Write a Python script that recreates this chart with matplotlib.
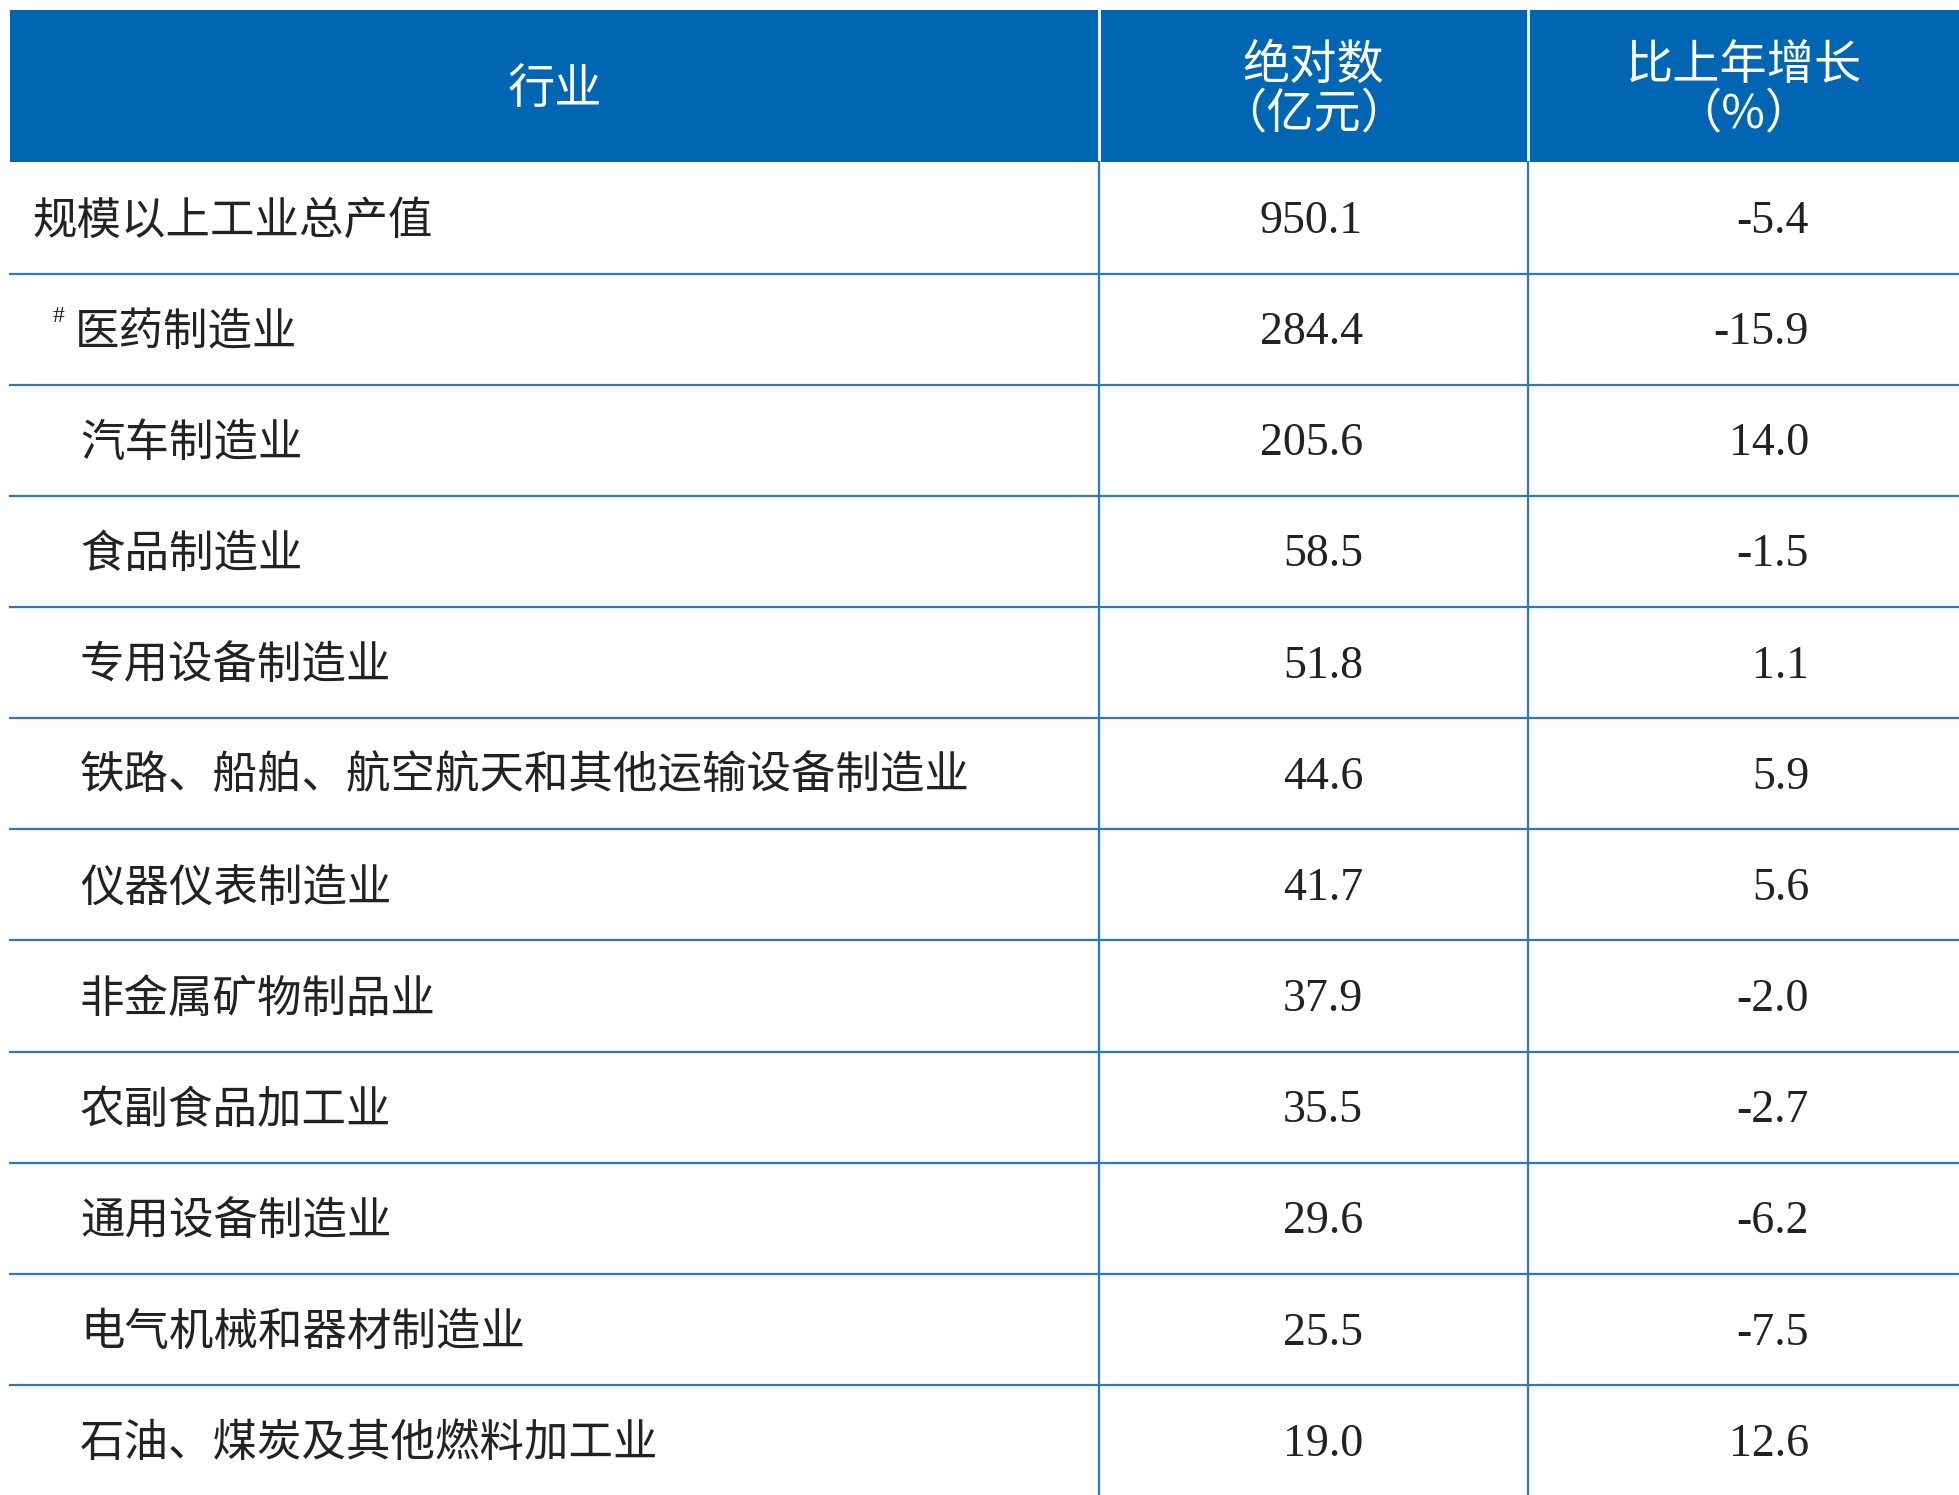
import matplotlib.pyplot as plt

plt.rcParams['font.family'] = ['Noto Sans CJK SC', 'DejaVu Sans']

headers = ['行业', '绝对数\n（亿元）', '比上年增长\n（%）']
industries = ['规模以上工业总产值', '医药制造业', '汽车制造业', '食品制造业', '专用设备制造业',
              '铁路、船舶、航空航天和其他运输设备制造业', '仪器仪表制造业', '非金属矿物制品业',
              '农副食品加工业', '通用设备制造业', '电气机械和器材制造业', '石油、煤炭及其他燃料加工业']
values = ['950.1', '284.4', '205.6', '58.5', '51.8', '44.6', '41.7', '37.9', '35.5', '29.6', '25.5', '19.0']
growth = ['-5.4', '-15.9', '14.0', '-1.5', '1.1', '5.9', '5.6', '-2.0', '-2.7', '-6.2', '-7.5', '12.6']

W, H = 1568, 1197
blue = '#0066B3'
line = '#2F76BE'
fig = plt.figure(figsize=(19.59, 14.95), dpi=100)
ax = fig.add_axes([0, 0, 1, 1])
ax.set_xlim(0, W)
ax.set_ylim(H, 0)
ax.axis('off')

x0, x1, x2, x3 = 8, 880, 1223, 1568
top, hb, rh = 8, 130, 89
fs = 32

ax.add_patch(plt.Rectangle((x0, top), x3 - x0, hb - top, color=blue, lw=0))
for xs in (x1, x2):
    ax.plot([xs, xs], [top, hb], color='white', lw=2)
    ax.plot([xs, xs], [hb, H], color=line, lw=1.6)
ax.text((x0 + x1) / 2, 72, headers[0], color='white', fontsize=34, ha='center', va='center')
ax.text((x1 + x2) / 2, 72, headers[1], color='white', fontsize=34, ha='center', va='center', linespacing=1.0)
ax.text((x2 + x3) / 2, 72, headers[2], color='white', fontsize=34, ha='center', va='center', linespacing=1.0)

for i, (name, v, g) in enumerate(zip(industries, values, growth)):
    yc = hb + rh * i + rh / 2 + 2
    if i > 0:
        ax.plot([x0, x3], [hb + rh * i] * 2, color=line, lw=1.6)
    if i == 0:
        ax.text(26, yc, name, fontsize=fs, va='center', color='#222222')
    elif i == 1:
        ax.text(42, yc - 12, '#', fontsize=17, va='center', color='#222222', family='Liberation Serif')
        ax.text(60, yc, name, fontsize=fs, va='center', color='#222222')
    else:
        ax.text(64, yc, name, fontsize=fs, va='center', color='#222222')
    ax.text(1091, yc + 1, v, fontsize=33, ha='right', va='center', family='Liberation Serif', color='#222222')
    ax.text(1448, yc + 1, g, fontsize=33, ha='right', va='center', family='Liberation Serif', color='#222222')

fig.savefig('out.png', dpi=100)
